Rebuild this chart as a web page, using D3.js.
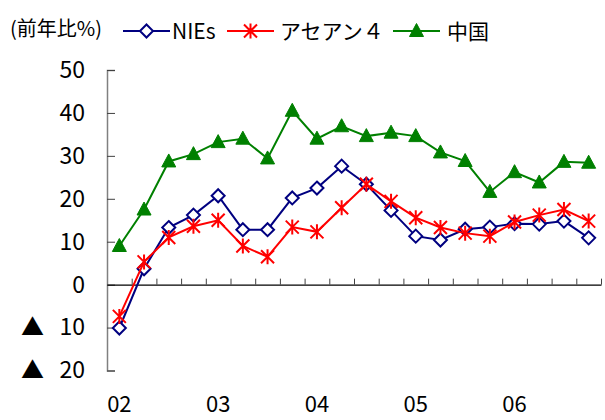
<!DOCTYPE html>
<html><head><meta charset="utf-8">
<script src="https://cdn.jsdelivr.net/npm/d3@7"></script>
<style>
body{margin:0;background:#fff;}
text{font-family:"Noto Sans CJK JP","Noto Sans",sans-serif;}
</style></head>
<body><svg id="c" width="605" height="420"></svg>
<script>
const quarters = ["02Q1","02Q2","02Q3","02Q4","03Q1","03Q2","03Q3","03Q4","04Q1","04Q2","04Q3","04Q4","05Q1","05Q2","05Q3","05Q4","06Q1","06Q2","06Q3","06Q4"];
const yearLabels = ["02","03","04","05","06"];
const yearLabelQuarters = ["02Q1","03Q1","04Q1","05Q1","06Q1"];
const nies  = [-10.1, 3.7, 13.3, 16.2, 20.7, 12.8, 12.8, 20.2, 22.5, 27.6, 23.4, 17.3, 11.3, 10.4, 12.9, 13.4, 14.2, 14.1, 14.8, 10.9];
const asean = [-7.4, 5.3, 11.0, 13.6, 15.0, 9.0, 6.5, 13.4, 12.3, 17.9, 23.4, 19.4, 15.6, 13.3, 12.0, 11.3, 14.6, 16.2, 17.5, 14.8];
const china = [9.0, 17.5, 28.7, 30.4, 33.2, 34.0, 29.4, 40.5, 34.0, 36.9, 34.6, 35.4, 34.6, 30.8, 28.8, 21.6, 26.2, 23.8, 28.6, 28.4];
const yTicks = [-20,-10,0,10,20,30,40,50];
const seriesNames = ["NIEs","アセアン４","中国"];
const unitLabel = "(前年比%)";

const svg = d3.select("#c");
const L = 107, R = 601, T = 70, B = 370.5;
const x = d3.scaleBand().domain(quarters).range([L, R]);
const xb = d3.scaleLinear().domain([0, quarters.length]).range([L, R]);
const y = d3.scaleLinear().domain([-20, 50]).range([B, T]);

// y axis
const ya = svg.append("g").attr("transform",`translate(${L},0)`)
  .call(d3.axisLeft(y).tickValues(yTicks).tickSize(-8).tickPadding(22)
    .tickFormat(d => d < 0 ? "▲\u00a0\u00a0\u00a0" + Math.abs(d) : String(d)));
ya.select(".domain").attr("stroke","#808080").attr("stroke-width",1.5);
ya.selectAll(".tick line").attr("stroke","#404040");
ya.selectAll(".tick text").attr("font-size",23).attr("fill","#000")
  .attr("font-family","'Noto Sans CJK JP',sans-serif");

// x axis at zero
const xa = svg.append("g").attr("transform",`translate(0,${y(0)})`)
  .call(d3.axisBottom(xb).tickValues(d3.range(1, quarters.length+1)).tickSize(-6).tickSizeOuter(0).tickFormat(""));
xa.select(".domain").attr("stroke","#000").attr("stroke-width",1.3);
xa.selectAll(".tick line").attr("stroke","#404040");

svg.append("g").selectAll("text").data(yearLabels).join("text")
  .attr("x",(d,i)=>x(yearLabelQuarters[i]) + x.bandwidth()/2)
  .attr("y",412).attr("text-anchor","middle").attr("font-size",22).text(d=>d);

const colors = ["#000080","#FF0000","#008000"];
const data = [nies, asean, china];
const line = d3.line().x((d,i)=>x(quarters[i]) + x.bandwidth()/2).y(d=>y(d));

function marker(g, k, cx, cy){
  if(k===0){
    g.append("path").attr("d",`M${cx},${cy-6.5}L${cx+6.5},${cy}L${cx},${cy+6.5}L${cx-6.5},${cy}Z`)
      .attr("fill","#fff").attr("stroke",colors[0]).attr("stroke-width",2);
  } else if(k===1){
    const s=6.5;
    g.append("path").attr("d",`M${cx-s},${cy-s}L${cx+s},${cy+s}M${cx-s},${cy+s}L${cx+s},${cy-s}M${cx},${cy-s-1}L${cx},${cy+s+1}`)
      .attr("stroke",colors[1]).attr("stroke-width",2).attr("fill","none");
  } else {
    g.append("path").attr("d",`M${cx},${cy-7.5}L${cx+7},${cy+5.5}L${cx-7},${cy+5.5}Z`)
      .attr("fill",colors[2]).attr("stroke",colors[2]).attr("stroke-width",1);
  }
}

data.forEach((vals,k)=>{
  const g = svg.append("g");
  g.append("path").datum(vals).attr("d",line).attr("fill","none")
    .attr("stroke",colors[k]).attr("stroke-width",2);
  vals.forEach((v,i)=>marker(g,k,x(quarters[i])+x.bandwidth()/2,y(v)));
});

// legend
svg.append("text").attr("x",10).attr("y",36).attr("font-size",20).text(unitLabel);
const legX = [123, 227, 393];
const textX = [172, 280, 447];
seriesNames.forEach((n,k)=>{
  const g = svg.append("g");
  g.append("line").attr("x1",legX[k]).attr("x2",legX[k]+47).attr("y1",31).attr("y2",31)
    .attr("stroke",colors[k]).attr("stroke-width",2);
  marker(g,k,legX[k]+23.5,31);
  g.append("text").attr("x",textX[k]).attr("y",39).attr("font-size",21).text(n);
});
</script></body></html>
